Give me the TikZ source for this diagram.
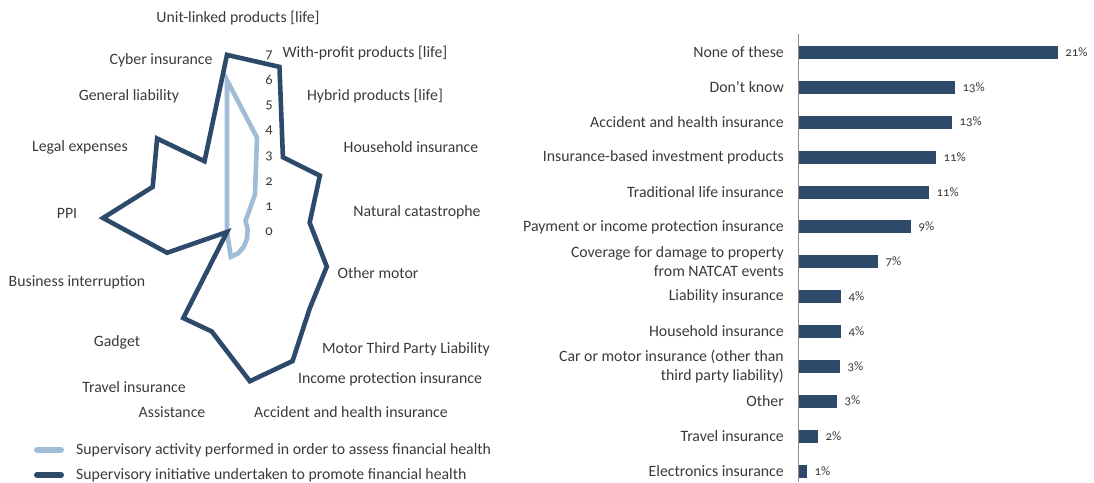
\documentclass[tikz,border=0pt]{standalone}
\usepackage{fontspec}
\setmainfont{Carlito}[Numbers=OldStyle]
\definecolor{navy}{HTML}{2E4A6A}
\definecolor{lightblue}{HTML}{A0BCD6}
\definecolor{txt}{HTML}{3A3A3A}
\definecolor{axisgray}{HTML}{8C8C8C}
\tikzset{
  lbl/.style={text=txt, font=\fontsize{15.8}{18}\selectfont, inner sep=0pt, align=center},
  tick/.style={text=txt, font=\fontsize{14.5}{16}\selectfont, inner sep=0pt},
  pct/.style={text=txt, font=\fontsize{12.8}{14}\selectfont, inner sep=0pt, anchor=west},
  cat/.style={text=txt, font=\fontsize{15.8}{19}\selectfont, inner sep=0pt, anchor=east, align=right},
  darkline/.style={draw=navy, line width=4.6pt},
  lightline/.style={draw=lightblue, line width=4.6pt},
  barfill/.style={fill=navy},
}
\begin{document}
\begin{tikzpicture}[x=1pt,y=-1pt]
\useasboundingbox (0,0) rectangle (1094,482);
% ---------- radar chart ----------
\foreach \v [count=\i from 0] in {7,7,4,5,4,5,5,6,6,4,4,0,3,6,4,5,3}
  \coordinate (d\i) at ({227+20.75*\v*sin(\i*360/17)},{232-25.3*\v*cos(\i*360/17)});
\foreach \v [count=\i from 0] in {6,4,2,1,1,1,1,1,1,0,0,0,0,0,0,0,0}
  \coordinate (l\i) at ({227+20.75*\v*sin(\i*360/17)},{232-25.3*\v*cos(\i*360/17)});
\draw[lightline] (l0) -- (l1) -- (l2) -- (l3) -- (l4) -- (l5) -- (l6) -- (l7) -- (l8) -- (l9) -- (l10) -- (l11) -- (l12) -- (l13) -- (l14) -- (l15) -- (l16) -- cycle;
\draw[darkline] (d0) -- (d1) -- (d2) -- (d3) -- (d4) -- (d5) -- (d6) -- (d7) -- (d8) -- (d9) -- (d10) -- (d11) -- (d12) -- (d13) -- (d14) -- (d15) -- (d16) -- cycle;
\foreach \t in {0,...,7}
  \node[tick] (t\t) at (269,{232-25.3*\t}) {\t};
% category labels
\node[lbl] (c0) at (238,18) {Unit-linked products [life]};
\node[lbl] (c1) at (365,53) {With-profit products [life]};
\node[lbl] (c2) at (375,96) {Hybrid products [life]};
\node[lbl] (c3) at (411,147) {Household insurance};
\node[lbl] (c4) at (417,212) {Natural catastrophe};
\node[lbl] (c5) at (378,273) {Other motor};
\node[lbl] (c6) at (406,349) {Motor Third Party Liability};
\node[lbl] (c7) at (390,379) {Income protection insurance};
\node[lbl] (c8) at (351,412) {Accident and health insurance};
\node[lbl] (c9) at (172,412) {Assistance};
\node[lbl] (c10) at (134,387) {Travel insurance};
\node[lbl] (c11) at (117,342) {Gadget};
\node[lbl] (c12) at (77,282) {Business interruption};
\node[lbl] (c13) at (67,213) {PPI};
\node[lbl] (c14) at (80,147) {Legal expenses};
\node[lbl] (c15) at (129,96) {General liability};
\node[lbl] (c16) at (161,60) {Cyber insurance};
% legend
\coordinate (la) at (37,450); \coordinate (lb) at (61,450);
\coordinate (da) at (37,475); \coordinate (db) at (61,475);
\draw[lightline, line width=6pt, line cap=round] (la) -- (lb);
\draw[darkline, line width=6pt, line cap=round] (da) -- (db);
\node[lbl, anchor=west] (leg1) at (76,450) {Supervisory activity performed in order to assess financial health};
\node[lbl, anchor=west] (leg2) at (76,475) {Supervisory initiative undertaken to promote financial health};
% ---------- bar chart ----------
\foreach \e/\p/\name [count=\i from 0] in {
  1057.7/21\%/None of these,
  955/13\%/Don't know,
  952/13\%/Accident and health insurance,
  936/11\%/Insurance-based investment products,
  929/11\%/Traditional life insurance,
  911/9\%/Payment or income protection insurance,
  878/7\%/{Coverage for damage to property\\from NATCAT events},
  841/4\%/Liability insurance,
  841/4\%/Household insurance,
  840/3\%/{Car or motor insurance (other than\\third party liability)},
  837/3\%/Other,
  818/2\%/Travel insurance,
  807/1\%/Electronics insurance}
{
  \pgfmathsetmacro{\yc}{52.5+34.875*\i}
  \fill[barfill] (799,\yc-6.5) rectangle (\e,\yc+6.5);
  \node[pct] (p\i) at (\e+7.5,\yc) {\p};
  \node[cat] (b\i) at (784,\yc) {\name};
}
\coordinate (axtop) at (798.5,34);
\coordinate (axbot) at (798.5,482);
\draw[axisgray, line width=1.2pt] (axtop) -- (axbot);
\end{tikzpicture}
\end{document}
